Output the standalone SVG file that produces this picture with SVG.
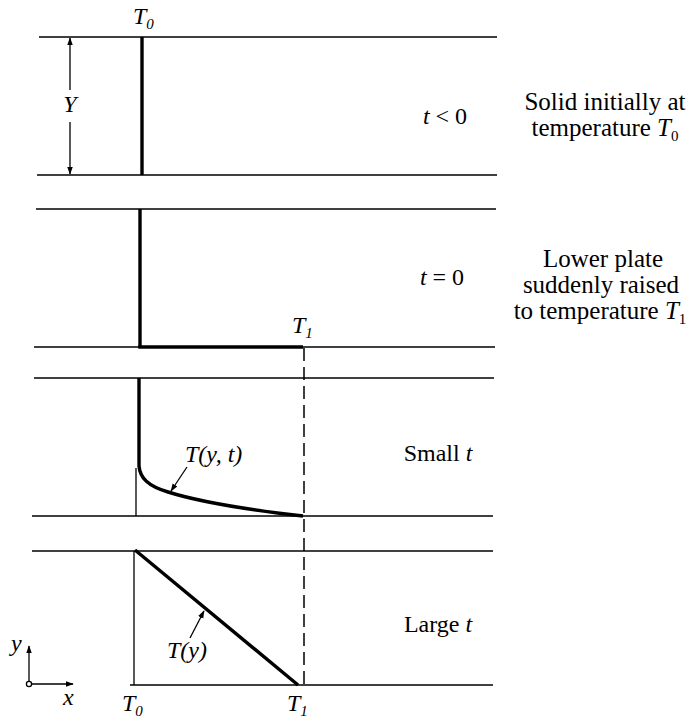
<svg xmlns="http://www.w3.org/2000/svg" width="693" height="719" viewBox="0 0 693 719">
<defs>
<style>
.wall{stroke:#000;stroke-width:1.4;fill:none}
.thick{stroke:#000;stroke-width:3.4;fill:none}
.thin{stroke:#000;stroke-width:1.3;fill:none}
.dash{stroke:#000;stroke-width:1.5;fill:none;stroke-dasharray:13,6}
text{font-family:'Liberation Serif','Times New Roman',Times,Tinos,'Noto Serif','DejaVu Serif',FreeSerif,Georgia,serif;font-size:24px;fill:#000}
.big{font-size:25px}
.it{font-style:italic}
.sub{font-size:15px}
.c{text-anchor:middle}
</style>
<marker id="ah" viewBox="0 0 10 10" refX="9" refY="5" markerWidth="8" markerHeight="8" orient="auto-start-reverse" markerUnits="userSpaceOnUse">
<path d="M0,1.5 L10,5 L0,8.5 z" fill="#000"/>
</marker>
</defs>
<rect width="693" height="719" fill="#fff"/>

<g id="plates">
<line class="wall" x1="39" y1="37" x2="497" y2="37"/>
<line class="wall" x1="37" y1="175" x2="497" y2="175"/>
<line class="wall" x1="36" y1="209" x2="496" y2="209"/>
<line class="wall" x1="34" y1="347" x2="495" y2="347"/>
<line class="wall" x1="34" y1="378" x2="494" y2="378"/>
<line class="wall" x1="32" y1="516" x2="493" y2="516"/>
<line class="wall" x1="32" y1="551" x2="493" y2="551"/>
<line class="wall" x1="130" y1="685" x2="493" y2="685"/>
</g>

<g id="panel1">
<line class="thick" x1="142" y1="37" x2="142" y2="175"/>
<text class="it" x="133" y="24">T<tspan class="sub" dy="5">0</tspan></text>
<line class="thin" x1="70" y1="90" x2="70" y2="38" marker-end="url(#ah)"/>
<line class="thin" x1="70" y1="122" x2="70" y2="174" marker-end="url(#ah)"/>
<text class="it c" x="70" y="112">Y</text>
<text class="c" x="445" y="124"><tspan class="it">t</tspan> &lt; 0</text>
<text class="c big" x="605" y="110">Solid initially at</text>
<text class="c big" x="605" y="136">temperature <tspan class="it">T</tspan><tspan class="sub" dy="5">0</tspan></text>
</g>

<g id="panel2">
<line class="thick" x1="140" y1="209" x2="140" y2="347"/>
<line class="thick" x1="138.3" y1="347" x2="303" y2="347"/>
<text class="it" x="292" y="333">T<tspan class="sub" dy="5">1</tspan></text>
<text class="c" x="442" y="285"><tspan class="it">t</tspan> = 0</text>
<text class="c big" x="603" y="267">Lower plate</text>
<text class="c big" x="601" y="293">suddenly raised</text>
<text class="c big" x="600" y="319">to temperature <tspan class="it">T</tspan><tspan class="sub" dy="5">1</tspan></text>
</g>

<g id="panel3">
<line class="thin" x1="136" y1="468" x2="136" y2="516"/>
<path class="thick" d="M139,378 L139,466 C140,478 148,486 168,492 C200,502 250,510 303,516"/>
<text class="it" x="185" y="462">T(y, t)</text>
<text class="c" x="438" y="461">Small <tspan class="it">t</tspan></text>
</g>

<g id="panel4">
<line class="thin" x1="134" y1="551" x2="134" y2="685"/>
<path class="thick" d="M135,550 L298,685"/>
<text class="it" x="167" y="658">T(y)</text>
<text class="c" x="438" y="632">Large <tspan class="it">t</tspan></text>
</g>

<g id="connectors">
<line class="dash" x1="304" y1="348" x2="304" y2="685"/>
<line class="thin" x1="187" y1="467" x2="171" y2="491" marker-end="url(#ah)"/>
<line class="thin" x1="190" y1="638" x2="204" y2="611" marker-end="url(#ah)"/>
</g>

<g id="axes">
<line class="thin" x1="32" y1="684" x2="73" y2="684" marker-end="url(#ah)"/>
<line class="thin" x1="29" y1="681" x2="29" y2="646" marker-end="url(#ah)"/>
<circle cx="29" cy="684" r="2.6" fill="#fff" stroke="#000" stroke-width="1.3"/>
<text class="it" x="11" y="651">y</text>
<text class="it" x="63" y="705">x</text>
<text class="it" x="122" y="711">T<tspan class="sub" dy="5">0</tspan></text>
<text class="it" x="287" y="711">T<tspan class="sub" dy="5">1</tspan></text>
</g>
</svg>
